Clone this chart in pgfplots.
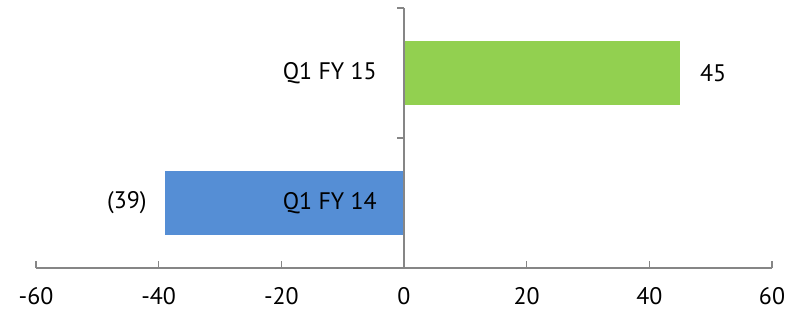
\documentclass[border=0pt]{standalone}
\usepackage{fontspec}
\setmainfont{PT Sans}
\usepackage{pgfplots}
\pgfplotsset{compat=1.18}
\definecolor{barGreen}{RGB}{146,208,80}
\definecolor{barBlue}{RGB}{85,142,213}
\definecolor{axisGray}{RGB}{134,134,134}
\begin{document}
\begin{tikzpicture}
\begin{axis}[
  scale only axis,
  width=736bp, height=260bp,
  xmin=-60, xmax=60, ymin=-0.5, ymax=1.5,
  xbar, bar width=64bp, bar shift=0pt,
  axis x line=bottom, axis y line=center,
  axis line style={-, axisGray, line width=1.6bp},
  xtick={-60,-40,...,60},
  ytick={-0.5,0.5,1.5}, yticklabels={},
  x tick style={axisGray, line width=1.6bp},
  y tick style={axisGray, line width=1.6bp},
  xtick align=inside, ytick align=outside,
  major tick length=7bp,
  tick label style={font=\fontsize{24}{28}\selectfont},
  /pgf/number format/assume math mode=true,
  xticklabel style={yshift=-16bp},
  point meta=explicit symbolic,
  nodes near coords={\pgfplotspointmeta},
  clip=false,
]
\addplot[fill=barGreen, draw=none,
  nodes near coords style={font=\fontsize{24}{28}\selectfont, black, anchor=west, inner sep=0pt, xshift=20bp}]
  coordinates {(45,1) [45]};
\addplot[fill=barBlue, draw=none,
  nodes near coords style={font=\fontsize{24}{28}\selectfont, black, anchor=east, inner sep=0pt, xshift=-18bp}]
  coordinates {(-39,0) [(39)]};
\draw[axisGray, line width=1.6bp] (axis cs:0,-0.5) -- (axis cs:0,1.5);
\node[anchor=east, font=\fontsize{24}{28}\selectfont, inner sep=0pt] at ([xshift=-27bp]axis cs:0,1) {Q1 FY 15};
\node[anchor=east, font=\fontsize{24}{28}\selectfont, inner sep=0pt] at ([xshift=-27bp]axis cs:0,0) {Q1 FY 14};
\end{axis}
\path (current axis.south west) ++(-36bp,-52bp) coordinate (bl);
\path (current axis.north east) ++(32bp,8bp) coordinate (tr);
\useasboundingbox (bl) rectangle (tr);
\end{tikzpicture}
\end{document}
